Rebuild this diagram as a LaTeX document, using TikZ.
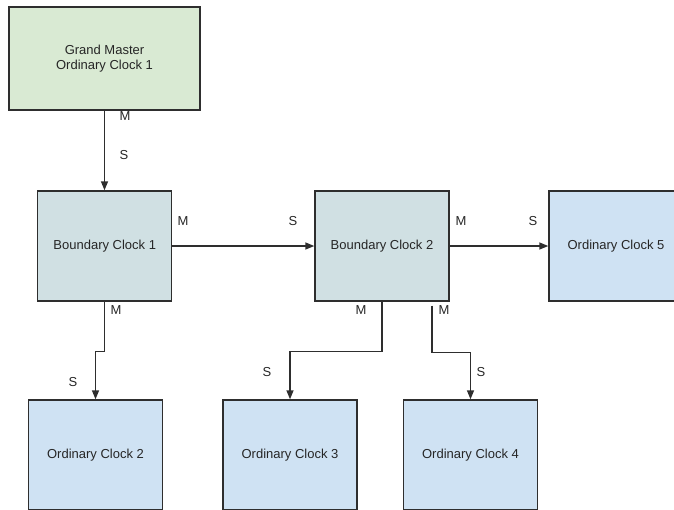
\documentclass[tikz,border=0pt]{standalone}
\usepackage{fontspec}
\setmainfont{Liberation Sans}
\usetikzlibrary{arrows.meta}
\definecolor{gmfill}{HTML}{D9EAD3}
\definecolor{bcfill}{HTML}{D0E0E3}
\definecolor{ocfill}{HTML}{CFE2F3}
\definecolor{edge}{HTML}{2E2E2E}
\tikzset{
  clockbox/.style={draw=edge, line width=1.4pt, minimum width=134pt, minimum height=110pt,
    inner sep=0pt, font=\fontsize{13}{15}\selectfont, align=center, text=black!85},
  link/.style={draw=edge, line width=1.4pt, -{Triangle[length=9pt,width=7pt]}},
  port/.style={font=\fontsize{13}{15}\selectfont, text=black!85, inner sep=0pt}
}
\begin{document}
\begin{tikzpicture}[x=1pt, y=-1pt]
  \useasboundingbox (0,0) rectangle (674,509);
  \clip (0,0) rectangle (674,509);

  % clocks
  \node[clockbox, fill=gmfill, minimum width=191pt, minimum height=103pt] (gm) at (104.5,58.5) {Grand Master\\Ordinary Clock 1};
  \node[clockbox, fill=bcfill] (bc1) at (104.75,246) {Boundary Clock 1};
  \node[clockbox, fill=bcfill] (bc2) at (382,246) {Boundary Clock 2};
  \node[clockbox, fill=ocfill] (oc5) at (616,246) {Ordinary Clock 5};
  \node[clockbox, fill=ocfill] (oc2) at (95.5,455) {Ordinary Clock 2};
  \node[clockbox, fill=ocfill] (oc3) at (290,455) {Ordinary Clock 3};
  \node[clockbox, fill=ocfill] (oc4) at (470.5,455) {Ordinary Clock 4};

  % links between clocks
  \draw[link] (gm.south) -- (gm.south |- bc1.north);
  \draw[link] (bc1.east) -- (bc2.west);
  \draw[link] (bc2.east) -- (oc5.west);
  \draw[link] (bc1.south) -- ++(0,50) -| (oc2.north);
  \draw[link] (bc2.south) -- ++(0,50) -| (oc3.north);
  \coordinate (bc2b) at ([xshift=50pt,yshift=-4pt]bc2.south);
  \draw[link] (bc2b) -- ++(0,47) -| (oc4.north);

  % port roles
  \node[port] (m1) at (125,116) {M};
  \node[port] (s1) at (124,155) {S};
  \node[port] (m2) at (183,221) {M};
  \node[port] (s2) at (293,221) {S};
  \node[port] (m3) at (461,221) {M};
  \node[port] (s3) at (533,221) {S};
  \node[port] (m4) at (116,310) {M};
  \node[port] (s4) at (73,382) {S};
  \node[port] (m5) at (361,310) {M};
  \node[port] (m6) at (444,310) {M};
  \node[port] (s5) at (267,372) {S};
  \node[port] (s6) at (481,372) {S};
\end{tikzpicture}
\end{document}
